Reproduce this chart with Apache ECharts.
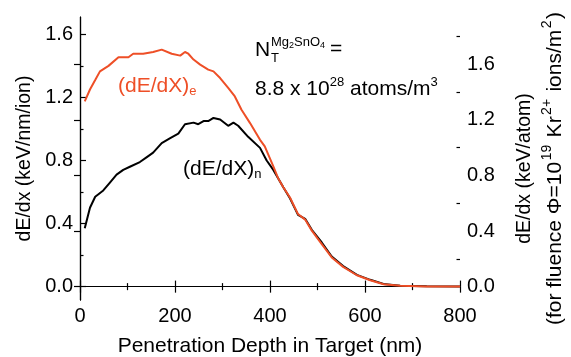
<!DOCTYPE html>
<html>
<head>
<meta charset="utf-8">
<script src="https://cdn.jsdelivr.net/npm/echarts@6/dist/echarts.min.js"></script>
<style>
  html, body { margin: 0; padding: 0; background: #fff; }
  #chart { width: 571px; height: 357px; }
</style>
</head>
<body>
<div id="chart"></div>
<script>
// nuclear stopping (dE/dX)n
const depthN = [10, 21, 32, 49, 63, 77, 91, 105, 126, 140, 154, 172, 189, 207, 221, 239, 249, 260, 270, 281, 295, 312, 323, 333, 354, 379, 393, 407, 428, 442, 459, 474, 488, 509, 530, 554, 583, 611, 639, 674, 730, 800];
const dedxN = [0.37, 0.50, 0.57, 0.61, 0.66, 0.71, 0.74, 0.76, 0.79, 0.82, 0.85, 0.91, 0.94, 0.97, 1.03, 1.04, 1.03, 1.05, 1.05, 1.07, 1.06, 1.02, 1.04, 1.02, 0.95, 0.88, 0.80, 0.74, 0.63, 0.56, 0.455, 0.43, 0.36, 0.28, 0.19, 0.13, 0.074, 0.043, 0.017, 0.006, 0.002, 0.0];

// electronic stopping (dE/dX)e
const depthE = [10, 21, 32, 42, 60, 81, 102, 112, 133, 154, 172, 193, 211, 221, 228, 239, 253, 270, 281, 295, 312, 326, 340, 358, 379, 389, 407, 417, 428, 442, 459, 474, 488, 509, 530, 554, 583, 611, 639, 674, 730, 800];
const dedxE = [1.175, 1.25, 1.31, 1.365, 1.40, 1.455, 1.455, 1.477, 1.477, 1.488, 1.503, 1.477, 1.465, 1.488, 1.477, 1.44, 1.408, 1.376, 1.365, 1.323, 1.26, 1.206, 1.122, 1.037, 0.931, 0.889, 0.762, 0.688, 0.63, 0.565, 0.46, 0.425, 0.355, 0.27, 0.185, 0.125, 0.072, 0.04, 0.015, 0.005, 0.001, 0.0];

// axis ticks
const leftMajor = [0, 0.4, 0.8, 1.2, 1.6];
const leftMinor = [0.2, 0.6, 1.0, 1.4];
const rightMajor = [0, 0.4, 0.8, 1.2, 1.6];
const rightMinor = [0.2, 0.6, 1.0, 1.4, 1.8];

const FONT = 'Liberation Sans, Arial, Helvetica, sans-serif';
const RED = '#EE4F27';

const chart = echarts.init(document.getElementById('chart'));

const lineStyle = { color: '#000', width: 1.2 };

function yAxisBase(pos, min, max) {
  return {
    type: 'value',
    position: pos,
    min: min,
    max: max,
    splitLine: { show: false },
    axisLine: { show: true, lineStyle: lineStyle },
  };
}

chart.setOption({
  animation: false,
  textStyle: { fontFamily: FONT },
  grid: { left: 80, right: 111, top: 17, bottom: 57, outerBoundsMode: 'none' },
  xAxis: [
    {
      type: 'value',
      position: 'bottom',
      min: 0,
      max: 800,
      interval: 200,
      splitLine: { show: false },
      axisLine: { show: true, lineStyle: lineStyle },
      axisTick: { inside: true, length: 6, lineStyle: lineStyle },
      minorTick: { show: true, splitNumber: 2, length: 3.5, lineStyle: lineStyle },
      axisLabel: { fontSize: 20, color: '#000', margin: 6, fontFamily: FONT },
      name: 'Penetration Depth in Target (nm)',
      nameLocation: 'middle',
      nameGap: 36,
      nameTextStyle: { fontSize: 21, color: '#000', fontFamily: FONT },
    },
    {
      type: 'value',
      position: 'top',
      min: 0,
      max: 800,
      interval: 200,
      splitLine: { show: false },
      axisLine: { show: true, lineStyle: lineStyle },
      axisTick: { inside: true, length: 6, lineStyle: lineStyle },
      minorTick: { show: true, splitNumber: 2, length: 3.5, lineStyle: lineStyle },
      axisLabel: { show: false },
    },
  ],
  yAxis: [
    Object.assign(yAxisBase('left', -0.085, 1.71), {
      axisTick: { inside: true, length: 6, lineStyle: lineStyle, customValues: leftMajor },
      axisLabel: {
        customValues: leftMajor,
        fontSize: 20, color: '#000', margin: 7, fontFamily: FONT,
        formatter: (v) => v.toFixed(1),
      },
      name: 'dE/dx (keV/nm/ion)',
      nameLocation: 'middle',
      nameRotate: 90,
      nameGap: 42,
      nameTextStyle: { fontSize: 19.5, color: '#000', fontFamily: FONT },
    }),
    Object.assign(yAxisBase('right', -0.096, 1.94), {
      axisTick: { inside: true, length: 6, lineStyle: lineStyle, customValues: rightMajor },
      axisLabel: {
        customValues: rightMajor,
        fontSize: 20, color: '#000', margin: 7, fontFamily: FONT,
        formatter: (v) => v.toFixed(1),
      },
      name: 'dE/dx (keV/atom)\n{b|(for fluence Φ=10}{sup|19}{b| Kr}{sup|2+}{b| ions/m}{sup|2}{b|)}',
      nameLocation: 'middle',
      nameRotate: 90,
      nameGap: 49,
      nameTextStyle: {
        fontSize: 19.5, color: '#000', fontFamily: FONT, lineHeight: 31,
        padding: [0, 20, 0, 0],
        rich: {
          b: { fontSize: 21, color: '#000', fontFamily: FONT, lineHeight: 31 },
          sup: { fontSize: 14, color: '#000', fontFamily: FONT, verticalAlign: 'top', lineHeight: 15, padding: [0, 1.5, 0, 1.5] },
        },
      },
    }),
    Object.assign(yAxisBase('left', -0.085, 1.71), {
      axisLine: { show: false },
      axisTick: { inside: true, length: 3.5, lineStyle: lineStyle, customValues: leftMinor },
      axisLabel: { show: false },
    }),
    Object.assign(yAxisBase('right', -0.096, 1.94), {
      axisLine: { show: false },
      axisTick: { inside: true, length: 3.5, lineStyle: lineStyle, customValues: rightMinor },
      axisLabel: { show: false },
    }),
  ],
  series: [
    {
      name: '(dE/dX)n',
      type: 'line',
      xAxisIndex: 0,
      yAxisIndex: 0,
      data: depthN.map((d, i) => [d, dedxN[i]]),
      showSymbol: false,
      symbol: 'none',
      lineStyle: { color: '#000', width: 2 },
    },
    {
      name: '(dE/dX)e',
      type: 'line',
      xAxisIndex: 0,
      yAxisIndex: 0,
      data: depthE.map((d, i) => [d, dedxE[i]]),
      showSymbol: false,
      symbol: 'none',
      lineStyle: { color: RED, width: 2 },
    },
  ],
  graphic: [
    {
      type: 'text', x: 118, y: 86,
      style: {
        text: '(dE/dX){sub|e}', fill: RED, fontSize: 21, fontFamily: FONT,
        align: 'left', verticalAlign: 'middle', lineHeight: 24,
        rich: { sub: { fontSize: 13, fill: RED, fontFamily: FONT, verticalAlign: 'bottom', lineHeight: 12 } },
      },
    },
    {
      type: 'text', x: 183, y: 169,
      style: {
        text: '(dE/dX){sub|n}', fill: '#000', fontSize: 21, fontFamily: FONT,
        align: 'left', verticalAlign: 'middle', lineHeight: 24,
        rich: { sub: { fontSize: 13, fill: '#000', fontFamily: FONT, verticalAlign: 'bottom', lineHeight: 12 } },
      },
    },
    {
      type: 'text', x: 255, y: 50,
      style: { text: 'N', fill: '#000', fontSize: 21, fontFamily: FONT, align: 'left', verticalAlign: 'middle' },
    },
    {
      type: 'text', x: 271, y: 58.5,
      style: { text: 'T', fill: '#000', fontSize: 13, fontFamily: FONT, align: 'left', verticalAlign: 'middle' },
    },
    {
      type: 'text', x: 271, y: 42,
      style: {
        text: 'Mg{s|2}SnO{s|4}', fill: '#000', fontSize: 13, fontFamily: FONT,
        align: 'left', verticalAlign: 'middle', lineHeight: 16,
        rich: { s: { fontSize: 9, fill: '#000', fontFamily: FONT, verticalAlign: 'bottom', lineHeight: 9 } },
      },
    },
    {
      type: 'text', x: 330, y: 49,
      style: { text: '=', fill: '#000', fontSize: 21, fontFamily: FONT, align: 'left', verticalAlign: 'middle' },
    },
    {
      type: 'text', x: 255, y: 89,
      style: {
        text: '8.8 x 10{sup|28} atoms/m{sup|3}', fill: '#000', fontSize: 21, fontFamily: FONT,
        align: 'left', verticalAlign: 'middle', lineHeight: 26,
        rich: { sup: { fontSize: 13, fill: '#000', fontFamily: FONT, verticalAlign: 'top', lineHeight: 14 } },
      },
    },
  ],
});
</script>
</body>
</html>
